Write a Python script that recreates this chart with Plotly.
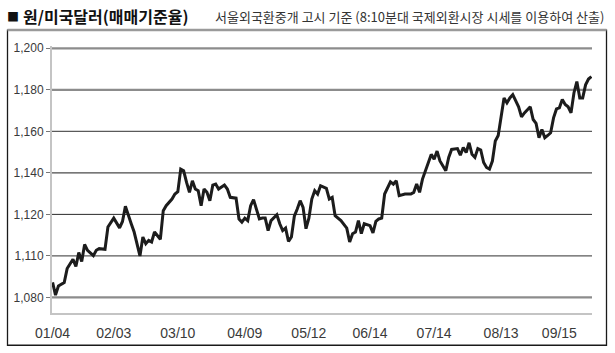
import plotly.graph_objects as go

# ---- data (trading-day index, KRW per USD) ----
days = [0, 1, 2, 4, 5, 7, 8, 9, 10, 11, 12, 14, 15, 16, 18, 19, 21, 23, 24, 25,
        27, 28, 30, 31, 32, 33, 34, 35, 37, 38, 39, 41, 42, 43, 44, 45, 46, 47, 48, 49,
        50, 51, 52, 53, 54, 55, 56, 57, 59, 60, 61, 63, 64, 65, 66, 67, 68, 69, 71, 72,
        73, 74, 75, 77, 78, 79, 80, 81, 82, 83, 84, 85, 86, 87, 88, 89, 90, 91, 92, 94,
        95, 96, 97, 99, 101, 102, 103, 104, 105, 106, 107, 109, 110, 111, 112, 113, 114, 115, 116, 117,
        118, 119, 121, 123, 124, 125, 126, 127, 129, 130, 131, 132, 133, 135, 136, 137, 139, 140, 141, 142,
        143, 144, 145, 146, 147, 148, 149, 150, 151, 152, 153, 154, 155, 156, 157, 158, 160, 161, 162, 164,
        165, 166, 167, 168, 169, 170, 171, 172, 173, 174, 175, 176, 177, 178, 179, 180, 181, 182, 183, 184,
        185]
rates = [1087.3, 1081.1, 1085.5, 1087.2, 1093.9, 1098.4, 1094.9, 1101.6, 1097.3, 1105.5,
         1102.7, 1100.1, 1102.7, 1103.5, 1103.2, 1113.9, 1118.2, 1113.5, 1116.6, 1123.9,
         1115.5, 1111.5, 1100.0, 1109.1, 1105.9, 1107.5, 1106.7, 1111.5, 1108.0, 1121.8,
         1124.2, 1127.4, 1129.8, 1130.9, 1141.8, 1141.0, 1135.4, 1130.6, 1136.2, 1132.2,
         1131.4, 1124.2, 1132.2, 1130.6, 1126.6, 1134.1, 1134.6, 1132.2, 1134.1, 1132.2,
         1128.2, 1127.8, 1117.8, 1116.3, 1118.2, 1117.0, 1124.2, 1127.1, 1117.8, 1118.2,
         1118.2, 1112.2, 1117.0, 1119.8, 1115.5, 1112.2, 1113.4, 1107.0, 1109.1, 1119.1,
         1122.6, 1126.6, 1123.4, 1113.1, 1118.2, 1127.4, 1131.4, 1129.8, 1133.8, 1132.5,
         1127.4, 1128.2, 1119.4, 1117.0, 1113.4, 1106.7, 1110.7, 1111.5, 1117.0, 1110.7,
         1115.5, 1114.6, 1111.1, 1116.6, 1117.8, 1118.2, 1129.8, 1132.5, 1135.7, 1134.6,
         1136.2, 1129.0, 1129.8, 1129.8, 1130.6, 1134.6, 1130.6, 1137.0, 1145.0, 1148.9,
         1146.6, 1150.5, 1145.7, 1141.0, 1147.4, 1151.3, 1151.7, 1148.5, 1152.2, 1149.8,
         1154.5, 1148.9, 1147.4, 1151.7, 1151.0, 1145.0, 1142.6, 1141.8, 1145.7, 1155.3,
         1158.0, 1166.5, 1176.1, 1173.7, 1176.1, 1177.7, 1171.8, 1167.0, 1168.9, 1171.8,
         1165.7, 1163.8, 1156.9, 1160.9, 1156.9, 1158.0, 1159.3, 1166.5, 1170.8, 1171.3,
         1175.3, 1172.9, 1171.8, 1168.9, 1178.5, 1184.0, 1176.1, 1176.1, 1182.4, 1185.2,
         1186.4]

x_tick_days = [0, 21, 43, 66, 88, 109, 131, 154, 174]
x_tick_labels = ["01/04", "02/03", "03/10", "04/09", "05/12", "06/14", "07/14", "08/13", "09/15"]

y_tick_vals = [1080, 1100, 1120, 1140, 1160, 1180, 1200]
y_tick_labels = ["1,080", "1,110", "1,120", "1,140", "1,160", "1,180", "1,200"]

title_mark = "■"
title_text = "원/미국달러(매매기준율)"
subtitle_text = "서울외국환중개 고시 기준 (8:10분대 국제외환시장 시세를 이용하여 산출)"

# ---- layout geometry ----
W, H = 615, 353
ML, MR, MT, MB = 52, 23, 46, 38
PW, PH = W - ML - MR, H - MT - MB


def px_x(px):
    return (px - ML) / PW


def px_y(py):
    return (H - MB - py) / PH


grid_styles = {
    1080: ("#8c8c8c", 2.2),
    1100: ("#5a5a5a", 1.2),
    1120: ("#2a2a2a", 1.0),
    1140: ("#4a4a4a", 1.2),
    1160: ("#5a5a5a", 1.2),
    1180: ("#8c8c8c", 2.2),
    1200: ("#8c8c8c", 2.2),
}

fig = go.Figure()
fig.add_trace(go.Scatter(
    x=days, y=rates, mode="lines",
    line=dict(color="#1c1c1c", width=3),
    hoverinfo="skip", showlegend=False,
))

shapes = []
for v in y_tick_vals:
    c, w = grid_styles[v]
    shapes.append(dict(type="line", xref="paper", yref="y", x0=0, x1=1, y0=v, y1=v,
                       line=dict(color=c, width=w), layer="below"))
# outer frame
shapes.append(dict(type="rect", xref="paper", yref="paper",
                   x0=px_x(7.5), x1=px_x(606.5), y0=px_y(347.5), y1=px_y(30),
                   line=dict(color="#1a1a1a", width=1.3), layer="below"))
shapes.append(dict(type="line", xref="paper", yref="paper",
                   x0=px_x(7.5), x1=px_x(606.5), y0=px_y(30), y1=px_y(30),
                   line=dict(color="#9a9a9a", width=2.5), layer="below"))

annotations = [
    dict(text=title_mark, xref="paper", yref="paper", x=px_x(5), y=px_y(16),
         xanchor="left", yanchor="middle", showarrow=False,
         font=dict(family="Noto Sans CJK KR", size=12, color="#111111")),
    dict(text=title_text, xref="paper", yref="paper", x=px_x(21), y=px_y(16),
         xanchor="left", yanchor="middle", showarrow=False,
         font=dict(family="Noto Sans CJK KR", size=16, color="#111111", weight="bold")),
    dict(text=subtitle_text, xref="paper", yref="paper", x=px_x(606), y=px_y(16),
         xanchor="right", yanchor="middle", showarrow=False,
         font=dict(family="Noto Sans CJK KR", size=13, color="#333333")),
]

fig.update_layout(
    width=W, height=H,
    margin=dict(l=ML, r=MR, t=MT, b=MB, pad=0),
    paper_bgcolor="white", plot_bgcolor="white",
    showlegend=False,
    shapes=shapes,
    annotations=annotations,
    xaxis=dict(
        range=[-0.2, 185.2], showgrid=False, zeroline=False,
        tickmode="array", tickvals=x_tick_days, ticktext=x_tick_labels,
        ticks="", showline=True, linecolor="#c4c4c4", linewidth=2,
        tickfont=dict(family="Liberation Sans", size=14, color="#3a3a3a"),
        ticklabelstandoff=6, fixedrange=True,
    ),
    yaxis=dict(
        range=[1072.5, 1201.1], showgrid=False, zeroline=False,
        tickmode="array", tickvals=y_tick_vals, ticktext=y_tick_labels,
        ticks="outside", ticklen=4, tickcolor="#777777", tickwidth=1,
        showline=True, linecolor="#c4c4c4", linewidth=2,
        tickfont=dict(family="Liberation Sans", size=12, color="#3a3a3a"),
        fixedrange=True,
    ),
)

fig.write_html("out.html")
